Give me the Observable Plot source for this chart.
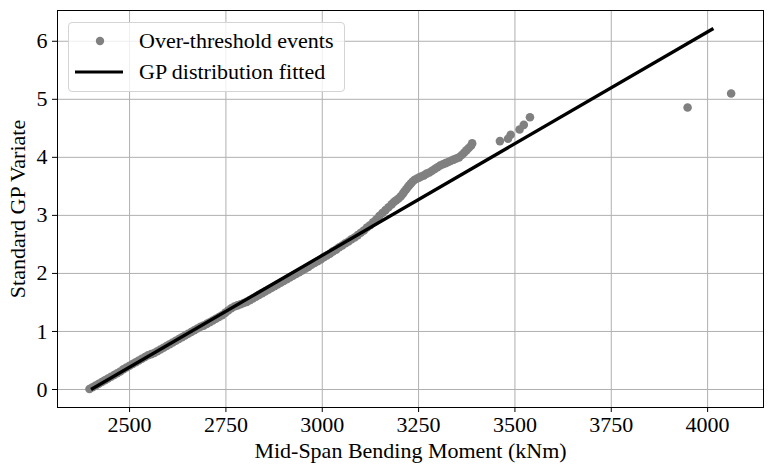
<!DOCTYPE html>
<html>
<head>
<meta charset="utf-8">
<script src="https://cdn.jsdelivr.net/npm/d3@7"></script>
<script src="https://cdn.jsdelivr.net/npm/@observablehq/plot@0.6"></script>
<style>
  html, body { margin: 0; padding: 0; background: #fff; }
  #wrap { position: relative; width: 771px; height: 472px; font-family: "Liberation Serif", "Times New Roman", serif; }
  #legend { position: absolute; left: 68px; top: 22px; width: 277px; height: 70px; box-sizing: border-box;
    border: 1px solid #d4d4d4; border-radius: 4px; background: rgba(255,255,255,0.8); }
  .item { position: absolute; left: 0; height: 30px; display: flex; align-items: center; }
  .item span { position: absolute; left: 70px; font-size: 22px; white-space: nowrap; color: #000; line-height: 1; }
</style>
</head>
<body>
<div id="wrap">
  <div id="chart"></div>
  <div id="legend">
    <div class="item" style="top:3px;">
      <svg width="60" height="30" style="position:absolute;left:0;top:0"><circle cx="31" cy="15" r="4.2" fill="#808080"></circle></svg>
      <span>Over-threshold events</span>
    </div>
    <div class="item" style="top:34px;">
      <svg width="60" height="30" style="position:absolute;left:0;top:0"><line x1="6" x2="54" y1="15" y2="15" stroke="#000" stroke-width="3"></line></svg>
      <span>GP distribution fitted</span>
    </div>
  </div>
</div>
<script>
// Over-threshold events: mid-span bending moment (kNm) and standard GP variate
const eventMoment = [
  2396, 2404, 2412, 2420, 2428, 2436, 2444, 2452, 2460, 2468, 2476, 2484, 2492, 2500,
  2508, 2516, 2524, 2532, 2540, 2548, 2556, 2564, 2572, 2580, 2588, 2596, 2604, 2612,
  2620, 2628, 2636, 2644, 2652, 2660, 2668, 2676, 2684, 2692, 2700, 2708, 2716, 2724,
  2732, 2740, 2748, 2756, 2764, 2772, 2780, 2788, 2796, 2804, 2812, 2820, 2828, 2836,
  2844, 2852, 2860, 2868, 2876, 2884, 2892, 2900, 2908, 2916, 2924, 2932, 2940, 2948,
  2956, 2964, 2972, 2980, 2988, 2996, 3004, 3012, 3020, 3028, 3036, 3044, 3052, 3060,
  3068, 3076, 3084, 3092, 3100, 3108, 3116, 3124, 3132, 3140, 3148, 3156, 3164, 3172,
  3180, 3186, 3192, 3198, 3204, 3209, 3213, 3218, 3222, 3226, 3230, 3234, 3239, 3245,
  3251, 3257, 3264, 3271, 3278, 3285, 3292, 3299, 3306, 3313, 3320, 3327, 3334, 3341,
  3348, 3355, 3362, 3368, 3374, 3380, 3386, 3389,
  3461, 3482, 3489, 3512, 3523, 3539, 3948, 4061
];
const eventVariate = [
  0.01, 0.04, 0.07, 0.10, 0.13, 0.16, 0.19, 0.22, 0.25, 0.28, 0.31, 0.35, 0.38, 0.41,
  0.44, 0.47, 0.50, 0.53, 0.56, 0.59, 0.61, 0.63, 0.66, 0.69, 0.72, 0.75, 0.78, 0.81,
  0.84, 0.87, 0.90, 0.93, 0.96, 0.99, 1.02, 1.05, 1.08, 1.10, 1.13, 1.16, 1.19, 1.22,
  1.25, 1.28, 1.32, 1.36, 1.40, 1.43, 1.45, 1.47, 1.49, 1.51, 1.54, 1.57, 1.60, 1.63,
  1.66, 1.69, 1.72, 1.75, 1.78, 1.81, 1.84, 1.87, 1.90, 1.93, 1.96, 1.99, 2.02, 2.05,
  2.08, 2.11, 2.15, 2.18, 2.21, 2.24, 2.28, 2.31, 2.34, 2.38, 2.41, 2.45, 2.48, 2.52,
  2.55, 2.59, 2.62, 2.66, 2.70, 2.74, 2.79, 2.83, 2.88, 2.93, 2.99, 3.04, 3.09, 3.14,
  3.19, 3.23, 3.26, 3.29, 3.33, 3.37, 3.41, 3.45, 3.49, 3.52, 3.55, 3.58, 3.61, 3.63,
  3.65, 3.67, 3.69, 3.72, 3.74, 3.77, 3.80, 3.83, 3.86, 3.88, 3.90, 3.92, 3.94, 3.96,
  3.98, 4.00, 4.04, 4.08, 4.12, 4.16, 4.20, 4.24,
  4.28, 4.32, 4.39, 4.48, 4.56, 4.69, 4.86, 5.10
];
// Fitted GP distribution (straight line in these coordinates)
const fitMoment = [2400, 4015];
const fitVariate = [0, 6.22];

const xTicks = [2500, 2750, 3000, 3250, 3500, 3750, 4000];
const yTicks = [0, 1, 2, 3, 4, 5, 6];

const events = eventMoment.map((m, i) => ({m, v: eventVariate[i]}));
const fit = fitMoment.map((m, i) => ({m, v: fitVariate[i]}));

const plot = Plot.plot({
  width: 771,
  height: 472,
  marginLeft: 57,
  marginRight: 8,
  marginTop: 10,
  marginBottom: 65,
  style: {fontFamily: "Liberation Serif, Times New Roman, serif", fontSize: "22px", color: "#000", background: "#fff"},
  x: {domain: [2313, 4145]},
  y: {domain: [-0.31, 6.53]},
  marks: [
    Plot.gridX(xTicks, {stroke: "#b0b0b0", strokeOpacity: 1, strokeWidth: 1}),
    Plot.gridY(yTicks, {stroke: "#b0b0b0", strokeOpacity: 1, strokeWidth: 1}),
    Plot.dot(events, {x: "m", y: "v", r: 4.3, fill: "#808080", stroke: "none"}),
    Plot.line(fit, {x: "m", y: "v", stroke: "#000", strokeWidth: 3.3, strokeLinecap: "butt"}),
    Plot.frame({stroke: "#000", strokeWidth: 1}),
    Plot.axisX(xTicks, {tickSize: 5, tickPadding: 4, fontSize: 22, tickFormat: d3.format("d"), label: "Mid-Span Bending Moment (kNm)", labelAnchor: "center", labelOffset: 50, labelArrow: "none"}),
    Plot.axisY(yTicks, {tickSize: 5, tickPadding: 5, fontSize: 22, tickFormat: d3.format("d"), label: "Standard GP Variate", labelAnchor: "center", labelOffset: 48, labelArrow: "none"})
  ]
});
document.getElementById("chart").appendChild(plot);
</script>
</body>
</html>
